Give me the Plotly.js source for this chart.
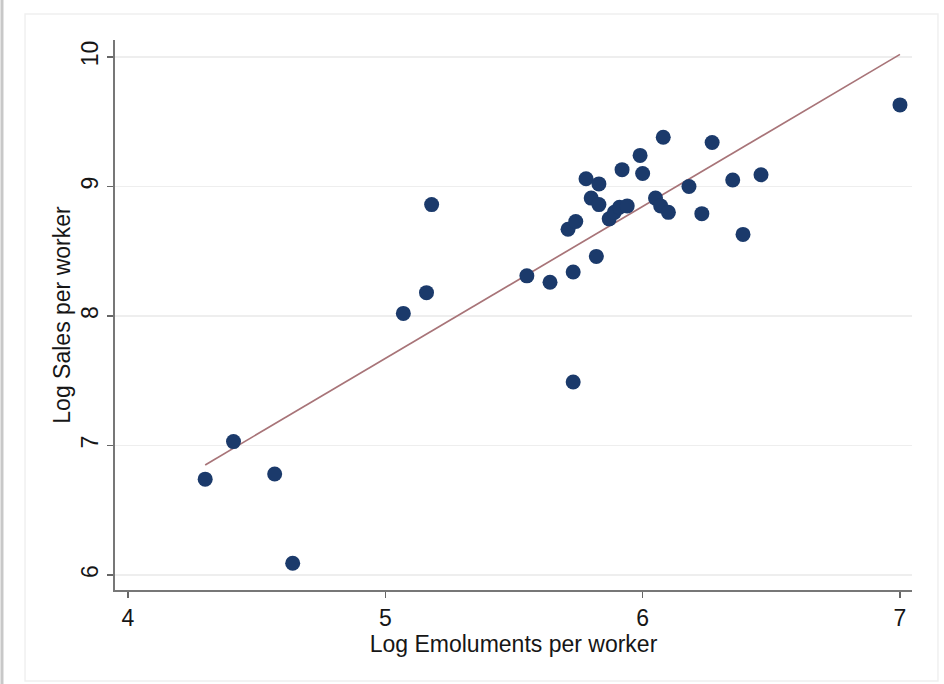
<!DOCTYPE html>
<html>
<head>
<meta charset="utf-8">
<script src="https://cdn.plot.ly/plotly-3.0.1.min.js"></script>
<style>
  html, body { margin: 0; padding: 0; background: #ffffff; }
  #chart { width: 944px; height: 684px; }
</style>
</head>
<body>
<div id="chart"></div>
<script>
// Scatter data (log emoluments vs log sales per worker)
const logEmoluments = [
  4.30, 4.41, 4.57, 4.64, 5.07, 5.16, 5.18, 5.55, 5.64, 5.73,
  5.73, 5.71, 5.74, 5.82, 5.78, 5.83, 5.80, 5.83, 5.87, 5.89,
  5.91, 5.94, 5.92, 5.99, 6.00, 6.05, 6.07, 6.10, 6.08, 6.18,
  6.23, 6.27, 6.35, 6.39, 6.46, 7.00
];
const logSales = [
  6.74, 7.03, 6.78, 6.09, 8.02, 8.18, 8.86, 8.31, 8.26, 7.49,
  8.34, 8.67, 8.73, 8.46, 9.06, 9.02, 8.91, 8.86, 8.75, 8.80,
  8.84, 8.85, 9.13, 9.24, 9.10, 8.91, 8.85, 8.80, 9.38, 9.00,
  8.79, 9.34, 9.05, 8.63, 9.09, 9.63
];
// Fitted line end points
const fitX = [4.30, 7.00];
const fitY = [6.85, 10.02];

const xTicks = [4, 5, 6, 7];
const yTicks = [6, 7, 8, 9, 10];
const xTitle = 'Log Emoluments per worker';
const yTitle = 'Log Sales per worker';

const fontFamily = '"Liberation Sans", Arial, Helvetica, sans-serif';
const textColor = '#161616';

const traces = [
  {
    x: fitX, y: fitY, type: 'scatter', mode: 'lines',
    line: { color: 'rgb(168,116,120)', width: 1.7 },
    hoverinfo: 'skip', showlegend: false
  },
  {
    x: logEmoluments, y: logSales, type: 'scatter', mode: 'markers',
    marker: { color: 'rgb(27,58,107)', size: 15, line: { width: 0 } },
    showlegend: false
  }
];

const layout = {
  width: 944, height: 684,
  margin: { l: 115, r: 32, t: 40, b: 94 },
  paper_bgcolor: '#ffffff',
  plot_bgcolor: '#ffffff',
  font: { family: fontFamily, size: 23, color: textColor },
  showlegend: false,
  xaxis: {
    range: [3.9495, 7.0467],
    tickvals: xTicks,
    ticktext: xTicks.map(String),
    ticks: 'outside', ticklen: 6, tickwidth: 1.5, tickcolor: '#666666',
    showline: true, linecolor: '#777777', linewidth: 2,
    showgrid: false, zeroline: false,
    tickfont: { family: fontFamily, size: 23, color: textColor },
    title: { text: xTitle, standoff: 0, font: { family: fontFamily, size: 23, color: textColor } }
  },
  yaxis: {
    range: [5.884, 10.131],
    tickvals: yTicks,
    ticktext: yTicks.map(String),
    tickangle: -90,
    ticks: 'outside', ticklen: 6, tickwidth: 1.5, tickcolor: '#666666',
    showline: true, linecolor: '#777777', linewidth: 2,
    showgrid: true, gridcolor: '#eeeeee', gridwidth: 1.2,
    zeroline: false,
    tickfont: { family: fontFamily, size: 23, color: textColor },
    title: { text: yTitle, standoff: 0, font: { family: fontFamily, size: 23, color: textColor } }
  },
  shapes: [
    {
      type: 'rect', xref: 'paper', yref: 'paper',
      x0: -0.1129, x1: 1.0326, y0: -0.1655, y1: 1.0473,
      line: { color: '#f0f0f0', width: 1.5 }, fillcolor: 'rgba(0,0,0,0)', layer: 'below'
    },
    {
      type: 'line', xref: 'paper', yref: 'paper',
      x0: -0.1418, x1: -0.1418, y0: -0.18, y1: 1.08,
      line: { color: '#c8c8c8', width: 3 }
    }
  ]
};

Plotly.newPlot('chart', traces, layout, { displayModeBar: false, staticPlot: true });
</script>
</body>
</html>
